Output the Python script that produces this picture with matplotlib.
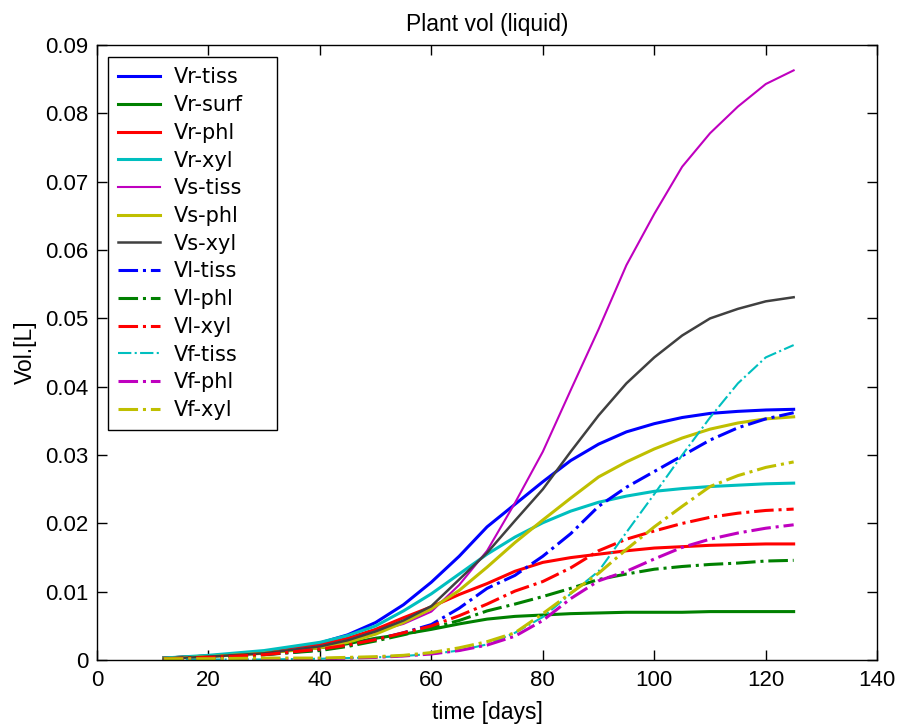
import numpy as np
import matplotlib
matplotlib.use("Agg")
import matplotlib.pyplot as plt

plt.rcParams['font.family'] = ['Liberation Sans', 'DejaVu Sans']

# time axis [days]
t = [12, 20, 30, 40, 45, 50, 55, 60, 65, 70, 75, 80, 85, 90, 95, 100, 105, 110, 115, 120, 125]

vr_tiss = [.0003, .0006, .0012, .0025, .0037, .0055, .0081, .0114, .0152, .0195, .0228, .0261, .0292, .0316, .0334, .0346, .0355, .0361, .0364, .0366, .0367]
vr_surf = [.0003, .0006, .0011, .0018, .0024, .0032, .0038, .0045, .0053, .0060, .0064, .0066, .0068, .0069, .0070, .0070, .0070, .0071, .0071, .0071, .0071]
vr_phl = [.0003, .0006, .0012, .0022, .0032, .0045, .0062, .0078, .0096, .0112, .0130, .0143, .0150, .0155, .0160, .0164, .0166, .0168, .0169, .0170, .0170]
vr_xyl = [.0003, .0007, .0014, .0026, .0036, .0050, .0072, .0097, .0126, .0155, .0180, .0201, .0218, .0231, .0240, .0247, .0251, .0254, .0256, .0258, .0259]
vs_tiss = [.0002, .0005, .0010, .0020, .0029, .0042, .0053, .0071, .0110, .0160, .0230, .0305, .0395, .0484, .0578, .0653, .0722, .0771, .0810, .0843, .0863]
vs_phl = [.0002, .0005, .0010, .0018, .0026, .0038, .0055, .0075, .0102, .0136, .0172, .0205, .0237, .0268, .0290, .0309, .0325, .0338, .0347, .0353, .0356]
vs_xyl = [.0002, .0005, .0010, .0020, .0029, .0042, .0058, .0079, .0118, .0157, .0204, .0250, .0305, .0358, .0405, .0443, .0475, .0500, .0514, .0525, .0531]
vl_tiss = [.0002, .0004, .0008, .0015, .0021, .0030, .0040, .0052, .0076, .0105, .0124, .0152, .0185, .0225, .0253, .0276, .0299, .0322, .0340, .0353, .0362]
vl_phl = [.0002, .0004, .0008, .0014, .0020, .0028, .0037, .0047, .0058, .0072, .0082, .0093, .0105, .0118, .0126, .0133, .0137, .0140, .0142, .0145, .0146]
vl_xyl = [.0002, .0004, .0008, .0016, .0022, .0030, .0040, .0050, .0065, .0082, .0101, .0115, .0135, .0160, .0177, .0189, .0200, .0209, .0215, .0219, .0221]
vf_tiss = [.0000, .0001, .0001, .0002, .0003, .0004, .0006, .0009, .0014, .0023, .0040, .0063, .0097, .0130, .0187, .0243, .0300, .0355, .0405, .0443, .0461]
vf_phl = [.0000, .0001, .0001, .0002, .0003, .0004, .0006, .0009, .0014, .0022, .0035, .0058, .0090, .0116, .0130, .0148, .0165, .0177, .0186, .0193, .0198]
vf_xyl = [.0002, .0002, .0003, .0003, .0004, .0005, .0007, .0011, .0018, .0027, .0040, .0068, .0098, .0127, .0162, .0195, .0225, .0254, .0270, .0282, .0290]

labels = ['Vr-tiss', 'Vr-surf', 'Vr-phl', 'Vr-xyl', 'Vs-tiss', 'Vs-phl', 'Vs-xyl',
          'Vl-tiss', 'Vl-phl', 'Vl-xyl', 'Vf-tiss', 'Vf-phl', 'Vf-xyl']
series = [vr_tiss, vr_surf, vr_phl, vr_xyl, vs_tiss, vs_phl, vs_xyl,
          vl_tiss, vl_phl, vl_xyl, vf_tiss, vf_phl, vf_xyl]

# matlab-ish colour order
B = (0, 0, 1)
G = (0, 0.5, 0)
R = (1, 0, 0)
C = (0, 0.75, 0.75)
M = (0.75, 0, 0.75)
Y = (0.75, 0.75, 0)
K = (0.25, 0.25, 0.25)
colors = [B, G, R, C, M, Y, K, B, G, R, C, M, Y]
styles = ['-'] * 7 + ['-.'] * 6
widths = [2.2, 2.2, 2.2, 2.2, 1.5, 2.2, 1.8] + [2.2, 2.2, 2.2, 1.5, 2.2, 2.2]

fig = plt.figure(figsize=(8.97, 7.27), dpi=100)
ax = fig.add_axes([0.108, 0.092, 0.870, 0.846])

for y, lab, c, ls, lw in zip(series, labels, colors, styles, widths):
    ax.plot(t, y, ls, color=c, lw=lw, label=lab)

ax.set_xlim(0, 140)
ax.set_ylim(0, 0.09)
ax.set_xticks(np.arange(0, 141, 20))
ax.set_yticks(np.arange(0, 0.0901, 0.01))
ax.set_yticklabels(['0', '0.01', '0.02', '0.03', '0.04', '0.05', '0.06', '0.07', '0.08', '0.09'])
ax.tick_params(direction='in', top=True, right=True, labelsize=16, length=7, width=1)
ax.tick_params(axis='x', pad=7)
ax.tick_params(axis='y', pad=6)
for s in ax.spines.values():
    s.set_linewidth(1)

ax.set_title('Plant vol (liquid)', fontsize=16.5, pad=10)
ax.set_xlabel('time [days]', fontsize=16.5, labelpad=7)
ax.set_ylabel('Vol.[L]', fontsize=16.5, labelpad=6)

# legend box stretched to the matlab width
leg = ax.legend(loc='upper left', bbox_to_anchor=(0.014, 0.5, 0.217, 0.4805), mode='expand',
                handlelength=2.0, labelspacing=0.37,
                prop={'family': 'DejaVu Sans', 'size': 15},
                fancybox=False, framealpha=1, edgecolor='black', borderpad=0.5,
                borderaxespad=0, handletextpad=0.65)
leg.get_frame().set_linewidth(1)

fig.savefig('out.png', dpi=100)
